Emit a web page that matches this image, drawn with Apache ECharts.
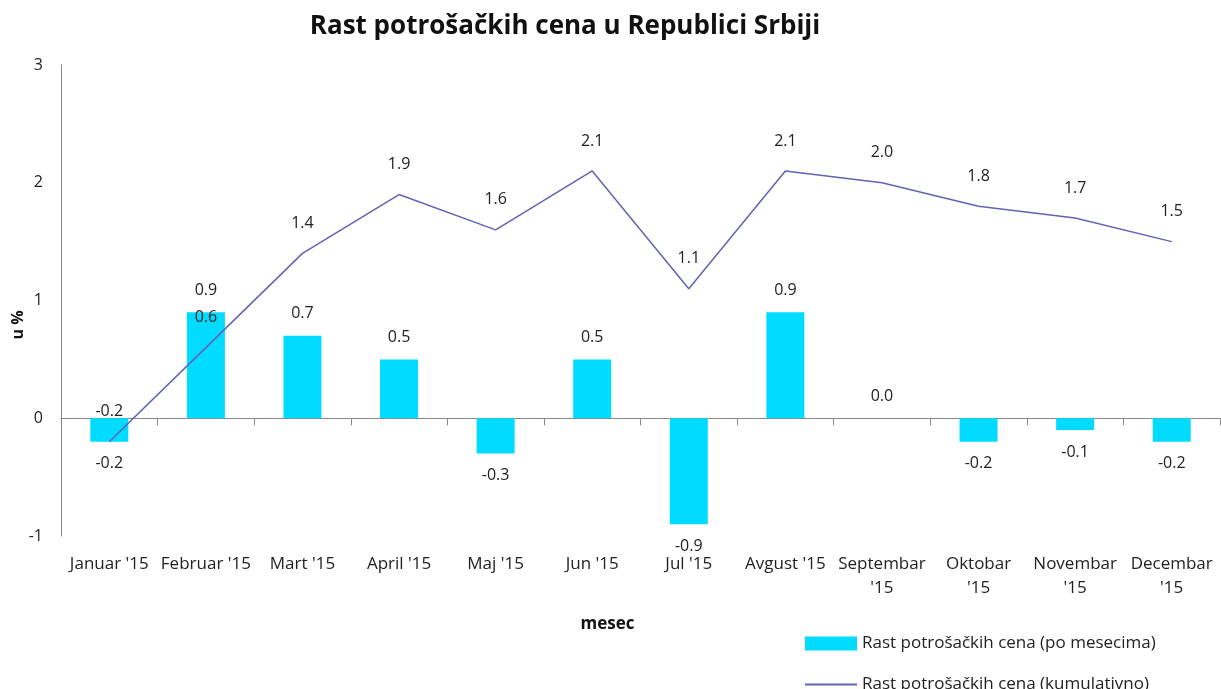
<!DOCTYPE html>
<html><head><meta charset="utf-8">
<script src="https://cdn.jsdelivr.net/npm/echarts@6/dist/echarts.min.js"></script>
<style>html,body{margin:0;padding:0;background:#fff}#c{width:1221px;height:689px}</style>
</head><body><div id="c"></div>
<script>
const categories = ["Januar '15","Februar '15","Mart '15","April '15","Maj '15","Jun '15","Jul '15","Avgust '15","Septembar '15","Oktobar '15","Novembar '15","Decembar '15"];
const tickLabels = ["Januar '15","Februar '15","Mart '15","April '15","Maj '15","Jun '15","Jul '15","Avgust '15","Septembar\n'15","Oktobar\n'15","Novembar\n'15","Decembar\n'15"];
const monthly = [-0.2, 0.9, 0.7, 0.5, -0.3, 0.5, -0.9, 0.9, 0.0, -0.2, -0.1, -0.2];
const cumulative = [-0.2, 0.6, 1.4, 1.9, 1.6, 2.1, 1.1, 2.1, 2.0, 1.8, 1.7, 1.5];
const yTicks = [-1, 0, 1, 2, 3];
const yName = 'u %';

const FONT = "'Open Sans', 'Noto Sans', sans-serif";
const BAR = '#00dcff', LINE = '#6262b6';
const chart = echarts.init(document.getElementById('c'));
chart.setOption({
  animation: false,
  textStyle: {fontFamily: FONT},
  title: {text: 'Rast potrošačkih cena u Republici Srbiji', left: 560, top: 9, textAlign: 'center',
    textStyle: {fontFamily: FONT, fontSize: 26, fontWeight: 'bold', color: '#111'}},
  grid: {left: 61, right: 1, top: 65, bottom: 153, containLabel: false, outerBoundsMode: 'none'},
  graphic: [{
    type: 'text', x: 18, y: 325, rotation: Math.PI / 2,
    style: {text: yName, font: "bold 16px 'Open Sans', sans-serif", fill: '#111',
      align: 'center', verticalAlign: 'middle'}
  }],
  legend: [
    {
      orient: 'vertical', left: 800, top: 630, itemWidth: 52, itemHeight: 14, itemGap: 5,
      textStyle: {fontFamily: FONT, fontSize: 17, color: '#222'},
      data: [{name: 'Rast potrošačkih cena (po mesecima)', icon: 'rect', itemStyle: {color: BAR}}]
    },
    {
      orient: 'vertical', left: 800, top: 671, itemWidth: 52, itemHeight: 2, itemGap: 5,
      textStyle: {fontFamily: FONT, fontSize: 17, color: '#222'},
      data: [{name: 'Rast potrošačkih cena (kumulativno)', icon: 'rect', itemStyle: {color: LINE}}]
    }
  ],
  xAxis: {
    type: 'category', data: categories,
    name: 'mesec', nameLocation: 'middle', nameGap: 80,
    nameTextStyle: {fontFamily: FONT, fontSize: 17, fontWeight: 'bold', color: '#111', padding: [0, 66, 0, 0]},
    axisLine: {onZero: true, lineStyle: {color: '#888', width: 1}},
    axisTick: {show: true, alignWithLabel: false, length: 7, lineStyle: {color: '#888'}},
    axisLabel: {margin: 16, fontSize: 17, color: '#222', lineHeight: 24, interval: 0,
      formatter: (v, i) => tickLabels[i]}
  },
  yAxis: {
    type: 'value', min: -1, max: 3, interval: 1,
    axisLine: {show: true, lineStyle: {color: '#888', width: 1}},
    axisTick: {show: false},
    splitLine: {show: false},
    axisLabel: {margin: 18, fontSize: 16, color: '#222', formatter: v => yTicks.includes(v) ? String(v) : ''}
  },
  series: [
    {
      name: 'Rast potrošačkih cena (po mesecima)', type: 'bar', barWidth: 38,
      data: monthly.map(v => ({value: v, label: {position: v < 0 ? 'bottom' : 'top'}})),
      itemStyle: {color: BAR},
      label: {show: true, fontSize: 16, color: '#222', distance: 14,
        formatter: p => p.value.toFixed(1)},
      z: 2
    },
    {
      name: 'Rast potrošačkih cena (kumulativno)', type: 'line', data: cumulative,
      showSymbol: true, symbol: 'circle', symbolSize: 0,
      lineStyle: {color: LINE, width: 1.5}, itemStyle: {color: LINE},
      label: {show: true, position: 'top', distance: 22, fontSize: 16, color: '#222',
        formatter: p => p.value.toFixed(1)},
      labelLayout: {hideOverlap: false},
      z: 3
    }
  ]
});
</script></body></html>
